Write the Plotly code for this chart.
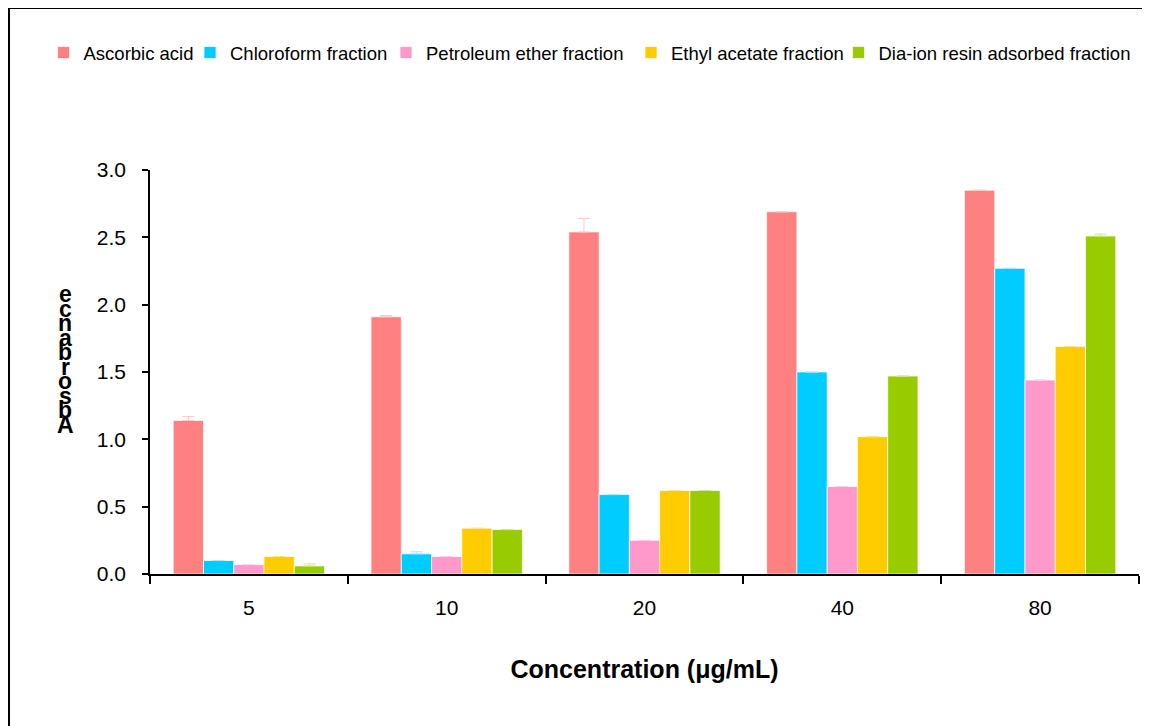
import plotly.graph_objects as go

categories = ["5", "10", "20", "40", "80"]
series_names = ["Ascorbic acid", "Chloroform fraction", "Petroleum ether fraction",
                "Ethyl acetate fraction", "Dia-ion resin adsorbed fraction"]
ascorbic = [1.14, 1.91, 2.54, 2.69, 2.85]
chloroform = [0.10, 0.15, 0.59, 1.50, 2.27]
petroleum = [0.07, 0.13, 0.25, 0.65, 1.44]
ethyl = [0.13, 0.34, 0.62, 1.02, 1.69]
diaion = [0.06, 0.33, 0.62, 1.47, 2.51]

ascorbic_err = [0.03, 0.01, 0.10, None, None]
chloroform_err = [None, 0.015, None, None, None]
petroleum_err = [None, None, None, None, None]
ethyl_err = [None, None, None, None, None]
diaion_err = [0.015, None, None, None, 0.015]

colors = ["#FF8080", "#00CCFF", "#FF99CC", "#FFCC00", "#99CC00"]
err_colors = ["#FFC8C8", "#A8E8FF", "#FFD0E6", "#FFE680", "#D2E890"]

values = [ascorbic, chloroform, petroleum, ethyl, diaion]
errors = [ascorbic_err, chloroform_err, petroleum_err, ethyl_err, diaion_err]

# page body adds an 8px offset; figure sized to fit the window
W, H = 1142, 718
L, R, T, B = 142, 11, 162, 152
pw = W - L - R
ph = H - T - B

legend_symbol_x = [66.5, 213, 409, 654, 861.5]   # reference symbol centres (window px)
legend_keys = ["legend", "legend2", "legend3", "legend4", "legend5"]

fig = go.Figure()
for k, (name, vals, errs, c, ec) in enumerate(zip(series_names, values, errors, colors, err_colors)):
    minus = [0 if e is not None else None for e in errs]
    fig.add_trace(go.Bar(
        x=categories, y=vals, name=name, legend=legend_keys[k],
        marker=dict(color=c, line=dict(color="rgba(255,255,255,0.7)", width=1)),
        error_y=dict(type="data", array=errs, arrayminus=minus, symmetric=False,
                     visible=True, color=ec, thickness=1, width=6),
    ))

legends = {}
for k, key in enumerate(legend_keys):
    legends[key] = dict(
        orientation="h", xref="container", yref="container",
        x=(legend_symbol_x[k] - 8 - 19 - 4) / W, y=1 - 45 / H,
        xanchor="left", yanchor="middle",
        font=dict(family="Arial, Liberation Sans", size=18.5, color="black"),
        bgcolor="rgba(0,0,0,0)", itemclick=False, itemdoubleclick=False,
    )

ylabel = "Absorbance"
annotations = []
letters = list(ylabel)[::-1]
for i, ch in enumerate(letters):
    py = 294 + 14.5 * i - 8
    annotations.append(dict(
        text="<b>%s</b>" % ch, xref="paper", yref="paper",
        x=(65 - 8 - L) / pw, y=(H - B - py) / ph,
        xanchor="center", yanchor="middle", showarrow=False,
        font=dict(family="Arial, Liberation Sans", size=23, color="black"),
    ))

fig.update_layout(
    width=W, height=H,
    margin=dict(l=L, r=R, t=T, b=B),
    paper_bgcolor="white", plot_bgcolor="white",
    barmode="group", bargap=0.235, bargroupgap=0,
    font=dict(family="Arial, Liberation Sans", size=21, color="black"),
    showlegend=True,
    annotations=annotations,
    shapes=[dict(type="rect", xref="paper", yref="paper",
                 x0=(1 - L) / pw, x1=(W + 20 - L) / pw,
                 y0=(H - B - (H + 20)) / ph, y1=(H - B - 0) / ph,
                 line=dict(color="black", width=2), fillcolor="rgba(0,0,0,0)",
                 layer="below")],
    **legends,
)

fig.update_xaxes(
    showline=True, linecolor="black", linewidth=2,
    ticks="outside", ticklen=8, tickwidth=2, tickcolor="black",
    tickson="boundaries", showgrid=False, ticklabelstandoff=14,
    tickfont=dict(size=21),
    title=dict(text="<b>Concentration (μg/mL)</b>", font=dict(size=25), standoff=42),
)
fig.update_yaxes(
    range=[0, 3.0], dtick=0.5, tickformat=".1f",
    showline=True, linecolor="black", linewidth=1.5,
    ticks="outside", ticklen=6, tickwidth=1.5, tickcolor="black",
    showgrid=False, zeroline=False, tickfont=dict(size=21), ticklabelstandoff=12,
)

fig.write_html("out.html")
